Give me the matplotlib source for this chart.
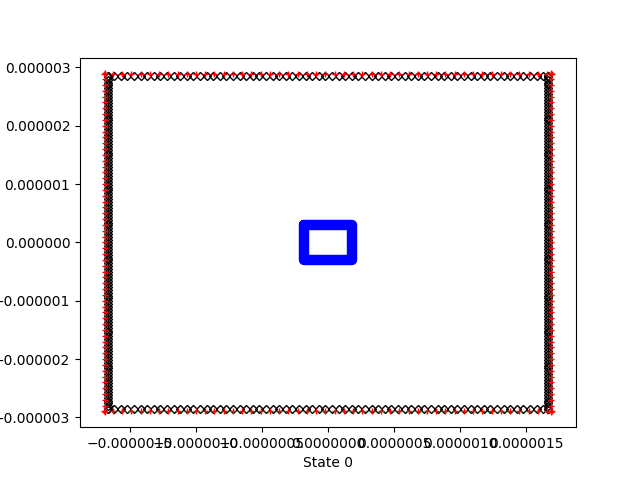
import matplotlib
matplotlib.use("Agg")
import matplotlib.pyplot as plt
from matplotlib.ticker import FuncFormatter
import numpy as np

# Values in units of 1e-8
black_half_x = 167
black_half_y = 286
black_top_x = [-167,-162,-157,-152,-147,-142,-137,-132,-127,-122,-117,-112,-107,-102,-97,-92,-87,-82,-77,-72,
               -67,-62,-57,-52,-47,-42,-37,-32,-27,-22,-17,-12,-7,-2,3,8,13,18,23,28,33,38,43,48,53,58,63,68,
               73,78,83,88,93,98,103,108,113,118,123,128,133,138,143,148,153,158,163,167]
black_side_y = [-286,-281,-276,-271,-266,-261,-256,-251,-246,-241,-236,-231,-226,-221,-216,-211,-206,-201,-196,
                -191,-186,-181,-176,-171,-166,-161,-156,-151,-146,-141,-136,-131,-126,-121,-116,-111,-106,-101,
                -96,-91,-86,-81,-76,-71,-66,-61,-56,-51,-46,-41,-36,-31,-26,-21,-16,-11,-6,-1,4,9,14,19,24,29,
                34,39,44,49,54,59,64,69,74,79,84,89,94,99,104,109,114,119,124,129,134,139,144,149,154,159,164,
                169,174,179,184,189,194,199,204,209,214,219,224,229,234,239,244,249,254,259,264,269,274,279,284,286]

red_half_x = 169
red_half_y = 289
red_top_x = [-170,-163,-156,-149,-142,-135,-128,-121,-114,-107,-100,-93,-86,-79,-72,-65,-58,-51,-44,-37,-30,
             -23,-16,-9,-2,5,12,19,26,33,40,47,54,61,68,75,82,89,96,103,110,117,124,131,138,145,152,159,166,170]
red_side_y = [-290,-280,-270,-260,-250,-240,-230,-220,-210,-200,-190,-180,-170,-160,-150,-140,-130,-120,-110,
              -100,-90,-80,-70,-60,-50,-40,-30,-20,-10,0,10,20,30,40,50,60,70,80,90,100,110,120,130,140,150,
              160,170,180,190,200,210,220,230,240,250,260,270,280,290]

blue_x = [-18, 18, 18, -18, -18]
blue_y = [30, 30, -30, -30, 30]

xticks = [-1.5e-6, -1.0e-6, -0.5e-6, 0.0, 0.5e-6, 1.0e-6, 1.5e-6]
yticks = [-3e-6, -2e-6, -1e-6, 0.0, 1e-6, 2e-6, 3e-6]

scale = 1e-8

def rect_path(top_x, side_y, hx, hy):
    xs, ys = [], []
    xs += list(top_x); ys += [hy] * len(top_x)
    xs += [hx] * len(side_y); ys += list(side_y[::-1])
    xs += list(top_x[::-1]); ys += [-hy] * len(top_x)
    xs += [-hx] * len(side_y); ys += list(side_y)
    return np.array(xs) * scale, np.array(ys) * scale

fig, ax = plt.subplots(figsize=(6.4, 4.8), dpi=100)

bx, by = rect_path(black_top_x, black_side_y, black_half_x, black_half_y)
rx, ry = rect_path(red_top_x, red_side_y, red_half_x, red_half_y)

ax.plot(np.array(blue_x) * scale, np.array(blue_y) * scale, color='blue', linewidth=7.5,
        solid_capstyle='round', solid_joinstyle='round')
ax.plot(bx, by, linestyle='none', marker='D', markersize=4, markerfacecolor='none',
        markeredgecolor='black', markeredgewidth=1.0)
ax.plot(rx, ry, linestyle='none', marker='+', markersize=5, color='red', markeredgewidth=1.0)

ax.set_xlim(-1.879e-6, 1.879e-6)
ax.set_ylim(-3.167e-6, 3.167e-6)
ax.set_xticks(xticks)
ax.set_yticks(yticks)

def fmt(digits):
    def f(v, pos):
        s = f"{abs(v):.{digits}f}"
        return ("\u2212" + s) if v < -1e-15 else s
    return FuncFormatter(f)

ax.xaxis.set_major_formatter(fmt(7))
ax.yaxis.set_major_formatter(fmt(6))
ax.set_xlabel("State 0")

fig.savefig("out.png", dpi=100)
